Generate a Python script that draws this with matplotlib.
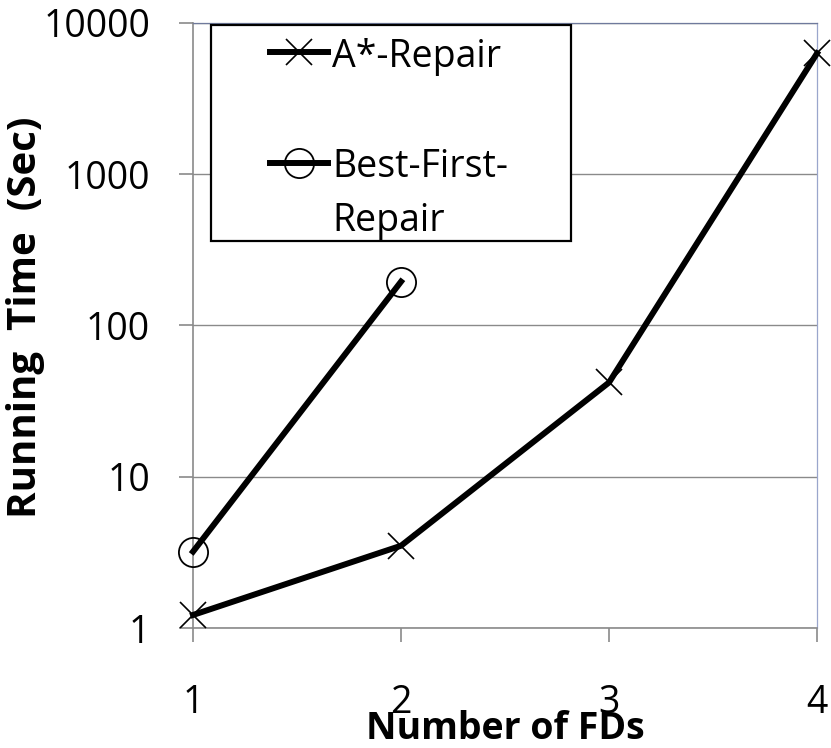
import numpy as np
import matplotlib
matplotlib.use('Agg')
import matplotlib.pyplot as plt
from matplotlib.patches import Rectangle

plt.rcParams['font.family'] = ['Open Sans', 'DejaVu Sans']

# data
fds = [1, 2, 3, 4]
astar_time = [1.22, 3.5, 42, 6300]
bf_fds = [1, 2]
bf_time = [3.2, 195]

yticks = [1, 10, 100, 1000, 10000]
ytick_labels = ['1', '10', '100', '1000', '10000']
xtick_labels = ['1', '2', '3', '4']

names = ['A*-Repair', 'Best-First-']

gray = '#8a8a8a'

fig = plt.figure(figsize=(8.31, 7.48), dpi=100)
ax = fig.add_axes([0.2323, 0.1604, 0.7509, 0.8089])

ax.plot(fds, astar_time, color='black', lw=4.3, marker='x', ms=19, mew=1.2,
        solid_joinstyle='round', clip_on=False, zorder=3)
ax.plot(bf_fds, bf_time, color='black', lw=4.3, marker='o', ms=21, mew=1.3,
        mfc='none', solid_joinstyle='round', clip_on=False, zorder=3)

ax.set_yscale('log')
ax.set_xlim(1, 4)
ax.set_ylim(1, 10000)
ax.set_yticks(yticks)
ax.set_yticklabels(ytick_labels)
ax.yaxis.set_minor_locator(matplotlib.ticker.NullLocator())
ax.set_xticks(fds)
ax.set_xticklabels(xtick_labels)

ax.yaxis.grid(True, color=gray, lw=1.0)
ax.set_axisbelow(True)

for s in ['left', 'bottom']:
    ax.spines[s].set_color(gray)
    ax.spines[s].set_linewidth(1.2)
ax.spines['top'].set_color('#6f7a9c')
ax.spines['top'].set_linewidth(0.9)
ax.spines['right'].set_color('#9aa6cc')
ax.spines['right'].set_linewidth(0.9)

ax.tick_params(axis='both', direction='out', length=10, width=1.2, color=gray,
               labelsize=27, pad=21)
ax.tick_params(axis='x', pad=30)

ax.set_xlabel('Number of FDs', fontsize=27, fontweight='bold')
ax.xaxis.set_label_coords(0.5, -0.167)
ax.xaxis.label.set_va('center')
ax.set_ylabel('Running  Time  (Sec)', fontsize=29, fontweight='bold')
ax.yaxis.set_label_coords(-0.269, 0.514)
ax.yaxis.label.set_va('center')

# legend drawn by hand so the handle sits on the first text line
ax.add_patch(Rectangle((0.0288, 0.6397), 0.577, 0.357, transform=ax.transAxes,
                       facecolor='white', edgecolor='black', lw=1.6,
                       clip_on=False, zorder=4))
ax.plot([0.123, 0.216], [0.952, 0.952], transform=ax.transAxes, color='black',
        lw=4.3, clip_on=False, zorder=5)
ax.plot([0.1695], [0.952], transform=ax.transAxes, color='black', marker='x',
        ms=19, mew=1.2, clip_on=False, zorder=5)
ax.plot([0.123, 0.216], [0.7686, 0.7686], transform=ax.transAxes, color='black',
        lw=4.3, clip_on=False, zorder=5)
ax.plot([0.1695], [0.7686], transform=ax.transAxes, color='black', marker='o',
        ms=21, mew=1.3, mfc='none', clip_on=False, zorder=5)
ax.text(0.2228, 0.952, names[0], transform=ax.transAxes, fontsize=27,
        va='center_baseline', ha='left', zorder=6)
ax.text(0.2228, 0.7686, names[1], transform=ax.transAxes, fontsize=27,
        va='center_baseline', ha='left', zorder=6)
ax.text(0.2228, 0.680, 'Repair', transform=ax.transAxes, fontsize=27,
        va='center_baseline', ha='left', zorder=6)

fig.savefig('out.png', dpi=100)
